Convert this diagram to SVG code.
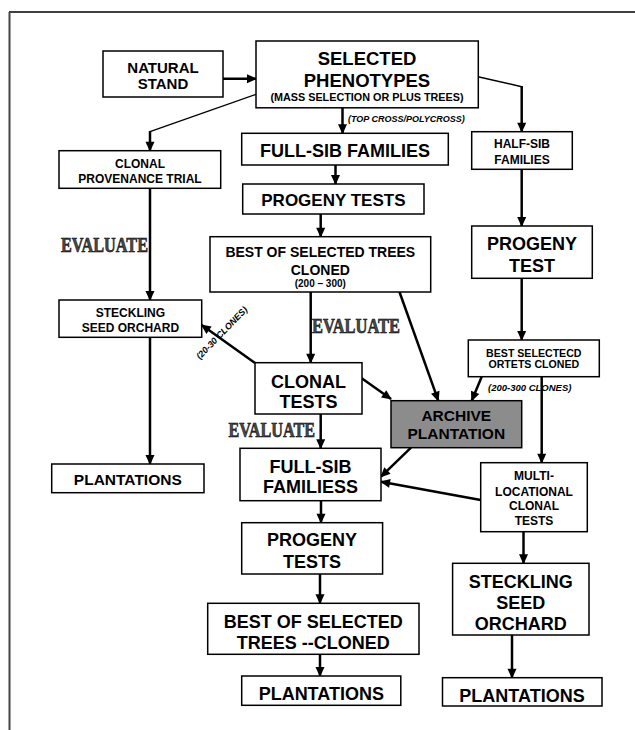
<svg xmlns="http://www.w3.org/2000/svg" width="635" height="730" viewBox="0 0 635 730">
<style>
.b{fill:#fff;stroke:#000;stroke-width:1.5}
.g{fill:#8c8c8c;stroke:#000;stroke-width:1.5}
text{font-family:"Liberation Sans",Arial,sans-serif;font-weight:bold;fill:#000;text-anchor:middle}
.it{font-style:italic;text-anchor:start}
.ev{font-family:"Liberation Serif","Times New Roman",serif;font-size:22px;text-anchor:start;fill:#4a4a4a;stroke:#000;stroke-width:0.6}
.c{fill:none;stroke:#000;stroke-width:2.5}
.t{fill:none;stroke:#000;stroke-width:1.4}
.a{marker-end:url(#ah)}
</style>
<defs>
<marker id="ah" viewBox="0 0 10 10" refX="9" refY="5" markerWidth="11" markerHeight="10" markerUnits="userSpaceOnUse" orient="auto"><path d="M0,0.5 L10,5 L0,9.5 z" fill="#000"/></marker>
</defs>
<g id="frame">
<path d="M9,12 H635" stroke="#000" stroke-width="1.5" fill="none"/>
<path d="M9.5,12 V730" stroke="#444" stroke-width="2" fill="none"/>
</g>
<g id="connectors">
<path class="c a" d="M223,78.7 H256"/>
<path class="t" d="M256,94.3 L150,131.7"/>
<path class="c a" d="M150,131 V150.7"/>
<path class="t" d="M478,76.7 L521.7,86.7"/>
<path class="c a" d="M521.7,86 V131.7"/>
<path class="c a" d="M342.5,108 V133.3"/>
<path class="c a" d="M150,188.3 V300"/>
<path class="c a" d="M150,337.3 V464"/>
<path class="c a" d="M335.5,165 V184"/>
<path class="c a" d="M320.7,214 V236.7"/>
<path class="c a" d="M310.7,292 V362.7"/>
<path class="c a" d="M399.5,292 L438.3,400.7"/>
<path class="c a" d="M255,363 L201.7,325"/>
<path class="c a" d="M361.7,378.3 L391,399"/>
<path class="c a" d="M320.7,414 V448.3"/>
<path class="c a" d="M481.7,376.7 L471.7,400.7"/>
<path class="c a" d="M411,447.7 L381,476.7"/>
<path class="c a" d="M480.7,500 L381,481.7"/>
<path class="c a" d="M521.7,169.3 V226"/>
<path class="c a" d="M521.7,278.3 V340"/>
<path class="c a" d="M541.7,376.7 V462.7"/>
<path class="c a" d="M523.5,531.7 V563.3"/>
<path class="c a" d="M512,635 V677.7"/>
<path class="c a" d="M321,500.7 V522.7"/>
<path class="c a" d="M320,574 V603.3"/>
<path class="c a" d="M320,654.3 V676"/>
</g>
<g id="labels">
<text class="it" x="348" y="122" font-size="9">(TOP CROSS/POLYCROSS)</text>
<text class="it" x="488" y="391" font-size="9.5">(200-300 CLONES)</text>
<text class="it" font-size="9" transform="translate(224,335) rotate(-46)" style="text-anchor:middle">(20-30 CLONES)</text>
<text class="ev" x="61" y="252" textLength="87" lengthAdjust="spacingAndGlyphs">EVALUATE</text>
<text class="ev" x="312" y="333" textLength="88" lengthAdjust="spacingAndGlyphs">EVALUATE</text>
<text class="ev" x="228.5" y="436.5" textLength="86.5" lengthAdjust="spacingAndGlyphs">EVALUATE</text>
</g>
<g id="natural-stand">
<rect class="b" x="103" y="51" width="120" height="46"/>
<text x="163" y="72.7" font-size="15">NATURAL</text>
<text x="163" y="89.3" font-size="15">STAND</text>
</g>
<g id="selected-phenotypes">
<rect class="b" x="256" y="41" width="222.3" height="66.8"/>
<text x="367" y="65" font-size="18.5">SELECTED</text>
<text x="367" y="86.5" font-size="18.5">PHENOTYPES</text>
<text x="367" y="101" font-size="10.8">(MASS SELECTION OR PLUS TREES)</text>
</g>
<g id="clonal-provenance-trial">
<rect class="b" x="59" y="150.7" width="161.7" height="37.6"/>
<text x="140" y="167.7" font-size="12">CLONAL</text>
<text x="140" y="182.7" font-size="12">PROVENANCE TRIAL</text>
</g>
<g id="steckling-seed-orchard-left">
<rect class="b" x="59" y="300" width="142.7" height="37.3"/>
<text x="130.4" y="316.7" font-size="12">STECKLING</text>
<text x="130.4" y="331.7" font-size="12">SEED ORCHARD</text>
</g>
<g id="plantations-left">
<rect class="b" x="51.7" y="464" width="152.3" height="28.7"/>
<text x="127.8" y="485" font-size="15.5">PLANTATIONS</text>
</g>
<g id="full-sib-families">
<rect class="b" x="241.7" y="133.3" width="206.6" height="31.7"/>
<text x="345" y="156.7" font-size="18">FULL-SIB FAMILIES</text>
</g>
<g id="progeny-tests-top">
<rect class="b" x="242.7" y="184" width="181.3" height="30"/>
<text x="333.4" y="205.7" font-size="17">PROGENY TESTS</text>
</g>
<g id="best-selected-cloned">
<rect class="b" x="210" y="236.7" width="220.7" height="55.3"/>
<text x="320.3" y="257.3" font-size="14">BEST OF SELECTED TREES</text>
<text x="320.3" y="275" font-size="14">CLONED</text>
<text x="320.3" y="287" font-size="10">(200 – 300)</text>
</g>
<g id="clonal-tests">
<rect class="b" x="255" y="362.7" width="107" height="51.3"/>
<text x="308.5" y="387.8" font-size="18">CLONAL</text>
<text x="308.5" y="408.3" font-size="18">TESTS</text>
</g>
<g id="archive-plantation">
<rect class="g" x="391" y="400.7" width="130.7" height="47"/>
<text x="456.3" y="421" font-size="15.5">ARCHIVE</text>
<text x="456.3" y="439" font-size="15.5">PLANTATION</text>
</g>
<g id="full-sib-familiess">
<rect class="b" x="240" y="448.3" width="141" height="52.4"/>
<text x="310.5" y="473.3" font-size="18">FULL-SIB</text>
<text x="310.5" y="493.3" font-size="18">FAMILIESS</text>
</g>
<g id="progeny-tests-bottom">
<rect class="b" x="241.7" y="522.7" width="140.9" height="51.3"/>
<text x="312" y="546" font-size="18">PROGENY</text>
<text x="312" y="567.7" font-size="18">TESTS</text>
</g>
<g id="best-selected-trees-cloned">
<rect class="b" x="207.7" y="603.3" width="211.3" height="51"/>
<text x="313.3" y="628.3" font-size="18">BEST OF SELECTED</text>
<text x="313.3" y="649.3" font-size="18">TREES --CLONED</text>
</g>
<g id="plantations-middle">
<rect class="b" x="241.7" y="676" width="159.1" height="29.3"/>
<text x="321.3" y="700" font-size="18">PLANTATIONS</text>
</g>
<g id="half-sib-families">
<rect class="b" x="471.7" y="131.7" width="100.6" height="37.6"/>
<text x="522" y="148.3" font-size="12">HALF-SIB</text>
<text x="522" y="164" font-size="12">FAMILIES</text>
</g>
<g id="progeny-test">
<rect class="b" x="471.7" y="226" width="120.6" height="52.3"/>
<text x="532" y="250" font-size="18">PROGENY</text>
<text x="532" y="271.7" font-size="18">TEST</text>
</g>
<g id="best-selectecd-ortets">
<rect class="b" x="468.3" y="340" width="131" height="36.7"/>
<text x="533.8" y="356.7" font-size="10.6">BEST SELECTECD</text>
<text x="533.8" y="368.3" font-size="10.6">ORTETS CLONED</text>
</g>
<g id="multi-locational-clonal-tests">
<rect class="b" x="480.7" y="462.7" width="106.6" height="69"/>
<text x="534" y="480" font-size="12">MULTI-</text>
<text x="534" y="495.5" font-size="12">LOCATIONAL</text>
<text x="534" y="510" font-size="12">CLONAL</text>
<text x="534" y="524.5" font-size="12">TESTS</text>
</g>
<g id="steckling-seed-orchard-right">
<rect class="b" x="452.6" y="563.3" width="136.4" height="71.7"/>
<text x="520.8" y="588.3" font-size="18">STECKLING</text>
<text x="520.8" y="609.3" font-size="18">SEED</text>
<text x="520.8" y="630" font-size="18">ORCHARD</text>
</g>
<g id="plantations-right">
<rect class="b" x="442.5" y="677.7" width="159.5" height="28.3"/>
<text x="522" y="701.7" font-size="18">PLANTATIONS</text>
</g>
</svg>
